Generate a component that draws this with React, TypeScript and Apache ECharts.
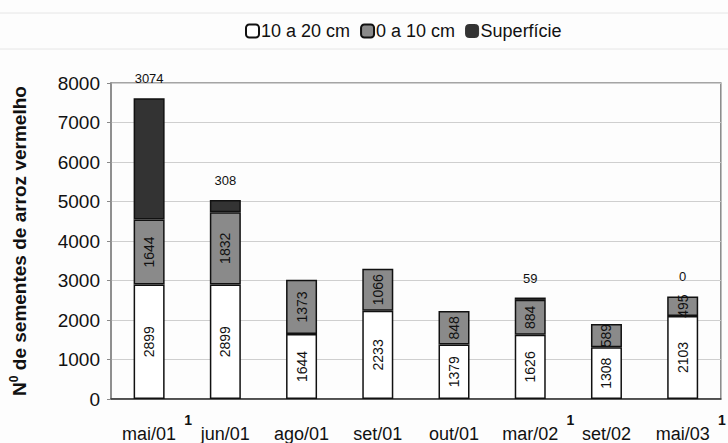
import React, { useEffect, useRef } from "react";
import * as echarts from "echarts";

const categories = ["mai/01", "jun/01", "ago/01", "set/01", "out/01", "mar/02", "set/02", "mai/03"];
const notes = ["1", "", "", "", "", "1", "", "1"];
const deep = [2899, 2899, 1644, 2233, 1379, 1626, 1308, 2103]; // 10 a 20 cm
const mid = [1644, 1832, 1373, 1066, 848, 884, 589, 495]; // 0 a 10 cm
const surface = [3074, 308, 0, 0, 0, 59, 0, 0]; // Superfície
const surfaceShown = [true, true, false, false, false, true, false, true];
const yTicks = [0, 8000, 1000];

const FONT = "'Liberation Sans', Arial, Helvetica, sans-serif";

export default function App() {
  const ref = useRef<HTMLDivElement>(null);
  useEffect(() => {
    if (!ref.current) return;
    const chart = echarts.init(ref.current, null, { renderer: "svg" });
    const insideLabel = {
      show: true,
      position: "inside",
      rotate: 90,
      color: "#111",
      fontSize: 14,
      fontFamily: FONT,
    };
    chart.setOption({
      animation: false,
      backgroundColor: "#fdfdfd",
      textStyle: { fontFamily: FONT },
      legend: {
        top: 17,
        left: 240,
        itemWidth: 13,
        itemHeight: 13,
        itemGap: 10,
        textStyle: { fontSize: 18, color: "#111", fontFamily: FONT, padding: [0, 0, 0, -3] },
        data: [
          { name: "10 a 20 cm", itemStyle: { color: "#ffffff", borderColor: "#111", borderWidth: 2 } },
          { name: "0 a 10 cm", itemStyle: { color: "#8a8a8a", borderColor: "#111", borderWidth: 2 } },
          { name: "Superfície", itemStyle: { color: "#333333", borderColor: "#333", borderWidth: 1 } },
        ],
      },
      graphic: [
        { type: "line", shape: { x1: 0, y1: 13, x2: 728, y2: 13 }, style: { stroke: "#e6e6e6", lineWidth: 1 } },
        { type: "line", shape: { x1: 0, y1: 49, x2: 728, y2: 49 }, style: { stroke: "#e6e6e6", lineWidth: 1 } },
      ],
      grid: {
        left: 104,
        right: 3,
        top: 83,
        bottom: 42,
        show: true,
        borderColor: "#888",
        borderWidth: 1.5,
        containLabel: false,
      },
      xAxis: {
        type: "category",
        data: categories,
        axisLine: { lineStyle: { color: "#333", width: 1.5 } },
        axisTick: { show: false },
        axisLabel: {
          margin: 14,
          fontSize: 18,
          lineHeight: 30,
          color: "#111",
          fontFamily: FONT,
          interval: 0,
          formatter: (v: string, i: number) => (notes[i] ? `{pad|}{m|${v}}{sup|${notes[i]}}` : `{m|${v}}`),
          rich: {
            m: { fontSize: 18, lineHeight: 30, verticalAlign: "bottom", color: "#111", fontFamily: FONT },
            pad: { width: 16 },
            sup: {
              fontSize: 14,
              fontWeight: "bold",
              color: "#111",
              width: 16,
              align: "right",
              lineHeight: 16,
              verticalAlign: "top",
              fontFamily: FONT,
            },
          },
        },
      },
      yAxis: {
        type: "value",
        min: yTicks[0],
        max: yTicks[1],
        interval: yTicks[2],
        name: "N{sup|0} de sementes de arroz vermelho",
        nameLocation: "middle",
        nameGap: 80,
        nameRotate: 90,
        nameTextStyle: {
          fontSize: 19,
          fontWeight: "bold",
          color: "#111",
          fontFamily: FONT,
          rich: {
            sup: { fontSize: 12, fontWeight: "bold", color: "#111", padding: [0, 0, 11, 0], fontFamily: FONT },
          },
        },
        axisLine: { show: true, lineStyle: { color: "#888", width: 1.5 } },
        axisTick: { show: true, length: 4, lineStyle: { color: "#888" } },
        axisLabel: {
          fontSize: 19,
          color: "#111",
          margin: 11,
          fontFamily: FONT,
          formatter: (v: number) => String(v),
        },
        splitLine: { lineStyle: { color: "#cfcfcf", width: 1 } },
      },
      series: [
        {
          name: "10 a 20 cm",
          type: "bar",
          stack: "t",
          barWidth: 31,
          data: deep,
          itemStyle: { color: "#ffffff", borderColor: "#111", borderWidth: 1.5 },
          label: insideLabel,
        },
        {
          name: "0 a 10 cm",
          type: "bar",
          stack: "t",
          barWidth: 31,
          data: mid,
          itemStyle: { color: "#8a8a8a", borderColor: "#111", borderWidth: 1.5 },
          label: insideLabel,
        },
        {
          name: "Superfície",
          type: "bar",
          stack: "t",
          barWidth: 31,
          data: surface.map((v, i) => ({
            value: v,
            label: { show: surfaceShown[i] },
            itemStyle: v === 0 ? { borderWidth: 0 } : undefined,
          })),
          itemStyle: { color: "#333333", borderColor: "#111", borderWidth: 1.5 },
          label: {
            show: true,
            position: "top",
            distance: 13,
            color: "#111",
            fontSize: 13,
            fontFamily: FONT,
          },
        },
      ],
    });
    return () => chart.dispose();
  }, []);
  return <div ref={ref} style={{ width: 728, height: 443, position: "absolute", left: 0, top: 0 }} />;
}
